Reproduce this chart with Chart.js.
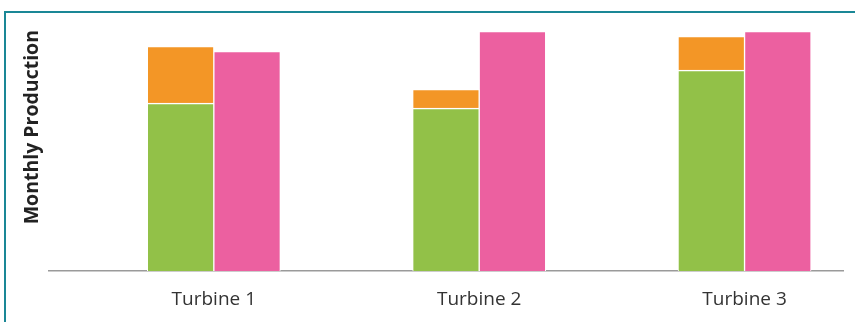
<!DOCTYPE html>
<html>
<head>
<meta charset="utf-8">
<script src="https://cdn.jsdelivr.net/npm/chart.js@4.4.1/dist/chart.umd.min.js"></script>
<style>
  html, body { margin: 0; padding: 0; background: #fff; }
  body { width: 855px; height: 322px; overflow: hidden; position: relative; }
  #frame {
    position: absolute; left: 4px; top: 11px;
    width: 849px; height: 309px;
    border-left: 2px solid #1a8796; border-top: 2px solid #1a8796;
  }
  #wrap { position: absolute; left: 0; top: 0; width: 849px; height: 309px; }
</style>
</head>
<body>
<div id="frame"><div id="wrap"><canvas id="chart"></canvas></div></div>
<script>
// Monthly production per turbine
const categories = ['Turbine 1', 'Turbine 2', 'Turbine 3'];
const baseOutput = [69.7, 67.6, 83.4];   // green, bottom of first stack
const extraOutput = [23.6, 7.9, 14.1];   // orange, top of first stack
const targetOutput = [91.3, 99.6, 99.6]; // pink, second stack

const toPoints = arr => arr.map((v, i) => ({ x: i, y: v }));

const barStyle = {
  borderColor: '#ffffff',
  borderWidth: { top: 1.5, left: 1, right: 1, bottom: 0 },
  borderSkipped: false,
  barThickness: 66.5
};

new Chart(document.getElementById('chart'), {
  type: 'bar',
  data: {
    datasets: [
      Object.assign({ label: 'Base', data: toPoints(baseOutput), backgroundColor: '#92c148', stack: 's1' }, barStyle),
      Object.assign({ label: 'Extra', data: toPoints(extraOutput), backgroundColor: '#f39626', stack: 's1' }, barStyle),
      Object.assign({ label: 'Target', data: toPoints(targetOutput), backgroundColor: '#ec60a0', stack: 's2' }, barStyle)
    ]
  },
  options: {
    responsive: true,
    maintainAspectRatio: false,
    animation: false,
    layout: { padding: { left: 11, right: 12, top: 17, bottom: 0 } },
    plugins: { legend: { display: false }, tooltip: { enabled: false } },
    scales: {
      x: {
        type: 'linear',
        stacked: true,
        min: -0.6234,
        max: 2.371,
        offset: false,
        grid: { display: false, drawTicks: false },
        border: { display: true, color: '#9a9a9a', width: 1.5 },
        afterBuildTicks: scale => { scale.ticks = categories.map((_, i) => ({ value: i })); },
        afterFit: scale => { scale.height = 51; },
        ticks: {
          padding: 17.5,
          color: '#333333',
          font: { family: '"Open Sans", sans-serif', size: 19 },
          callback: value => categories[value] ?? ''
        }
      },
      y: {
        stacked: true,
        min: 0,
        max: 100,
        grid: { display: false, drawTicks: false },
        border: { display: false },
        ticks: { display: false },
        title: {
          display: true,
          text: 'Monthly Production',
          align: 'end',
          color: '#222222',
          font: { family: '"Open Sans", sans-serif', size: 19.5, weight: 'bold' },
          padding: { top: 4, bottom: 4 }
        }
      }
    }
  }
});
</script>
</body>
</html>
